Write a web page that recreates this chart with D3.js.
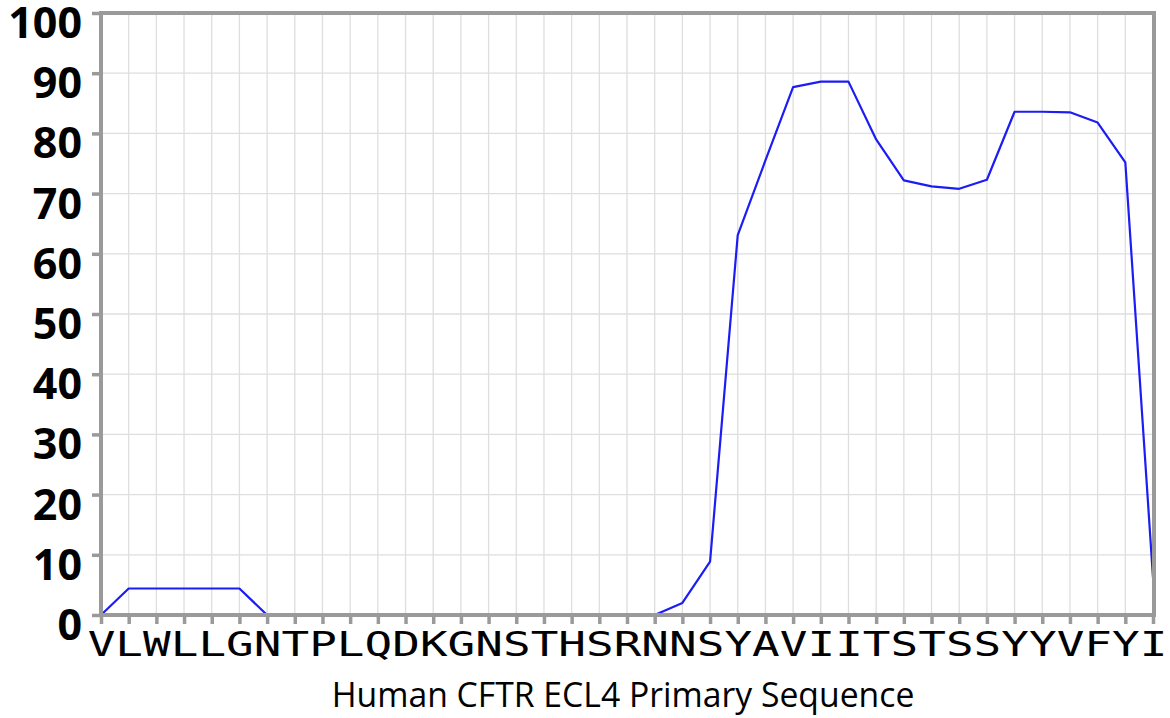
<!DOCTYPE html>
<html>
<head>
<meta charset="utf-8">
<script src="https://cdn.jsdelivr.net/npm/d3@7"></script>
<style>
  html, body { margin: 0; padding: 0; background: #fff; }
  svg { display: block; }
</style>
</head>
<body>
<div id="chart"></div>
<script>
// Human CFTR ECL4 — per-residue score along the primary sequence
const residues = 'VLWLLGNTPLQDKGNSTHSRNNSYAVIITSTSSYYVFYI'.split('');
const scores = [
  0, 4.4, 4.4, 4.4, 4.4, 4.4, 0,
  0, 0, 0, 0, 0, 0, 0, 0, 0, 0, 0, 0, 0,
  0, 2.0, 8.85, 63.1, 75.5, 87.7, 88.6, 88.6, 79.0,
  72.2, 71.2, 70.8, 72.3, 83.6, 83.6, 83.5, 81.8, 75.2, 6.2
];
const yTicks = [0, 10, 20, 30, 40, 50, 60, 70, 80, 90, 100];
const xTitle = 'Human CFTR ECL4 Primary Sequence';

const W = 1170, H = 718;
const margin = { top: 13, right: 17, bottom: 103, left: 101 };
const frameColor = '#9a9a9a';

const svg = d3.select('#chart').append('svg')
  .attr('width', W).attr('height', H);

const x = d3.scaleLinear()
  .domain([0, residues.length - 1])
  .range([margin.left, W - margin.right]);
const y = d3.scaleLinear()
  .domain([0, 100])
  .range([H - margin.bottom, margin.top]);

// grid
const grid = svg.append('g');
grid.selectAll('line.v').data(residues).join('line')
  .attr('class', 'v')
  .attr('x1', (d, i) => x(i)).attr('x2', (d, i) => x(i))
  .attr('y1', y(100)).attr('y2', y(0))
  .attr('stroke', '#dedede').attr('stroke-width', 1.3);
grid.selectAll('line.h').data(yTicks).join('line')
  .attr('class', 'h')
  .attr('x1', x(0)).attr('x2', x(residues.length - 1))
  .attr('y1', d => y(d)).attr('y2', d => y(d))
  .attr('stroke', '#dedede').attr('stroke-width', 1.3);

// the trace
const line = d3.line()
  .x((d, i) => x(i))
  .y(d => y(d));
svg.append('path')
  .datum(scores)
  .attr('d', line)
  .attr('fill', 'none')
  .attr('stroke', '#1c1cf5')
  .attr('stroke-width', 2.2)
  .attr('stroke-linejoin', 'round');

// frame (drawn over the line so zero stretches disappear into the axis)
svg.append('rect')
  .attr('x', x(0)).attr('y', y(100))
  .attr('width', x(residues.length - 1) - x(0) + 1)
  .attr('height', y(0) - y(100))
  .attr('fill', 'none')
  .attr('stroke', frameColor)
  .attr('stroke-width', 4);

// y axis
const yAxis = svg.append('g')
  .attr('transform', `translate(${x(0)},0)`)
  .call(d3.axisLeft(y).tickValues(yTicks).tickSize(9).tickPadding(10));
yAxis.select('.domain').remove();
yAxis.selectAll('.tick line')
  .attr('stroke', frameColor).attr('stroke-width', 3.5);
yAxis.selectAll('.tick text')
  .attr('fill', '#000')
  .attr('font-family', '"Open Sans", "Liberation Sans", sans-serif')
  .attr('font-weight', 700)
  .attr('font-size', 43)
  .attr('dy', '0.57em');

// x axis
const xAxis = svg.append('g')
  .attr('transform', `translate(0,${y(0)})`)
  .call(d3.axisBottom(x)
    .tickValues(d3.range(residues.length))
    .tickFormat(i => residues[i])
    .tickSize(9).tickPadding(6));
xAxis.select('.domain').remove();
xAxis.selectAll('.tick line')
  .attr('stroke', frameColor).attr('stroke-width', 3.5);
xAxis.selectAll('.tick text')
  .attr('fill', '#000')
  .attr('font-family', '"DejaVu Sans Mono", monospace')
  .attr('font-size', 34)
  .attr('y', 0)
  .attr('dy', 0)
  .attr('transform', 'translate(0,41) scale(1.35,1)');

// axis title, sized to the reference width
const title = svg.append('text')
  .attr('x', 623).attr('y', 707)
  .attr('text-anchor', 'middle')
  .attr('fill', '#000')
  .attr('font-family', '"Open Sans", "Liberation Sans", sans-serif')
  .attr('font-size', 30)
  .text(xTitle);
const tw = title.node().getComputedTextLength();
if (tw > 0) title.attr('font-size', 30 * 583 / tw);
</script>
</body>
</html>
